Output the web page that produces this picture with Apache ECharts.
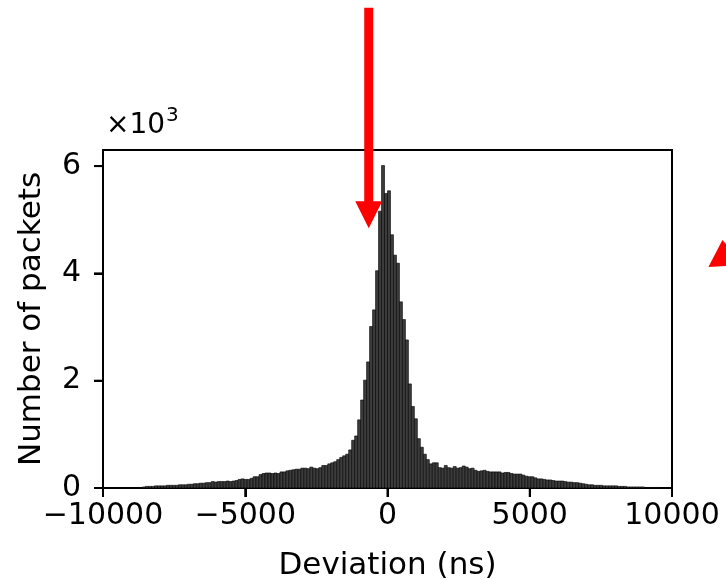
<!DOCTYPE html>
<html>
<head>
<meta charset="utf-8">
<script src="https://cdn.jsdelivr.net/npm/echarts@6/dist/echarts.min.js"></script>
<style>
  html, body { margin: 0; padding: 0; background: #fff; }
  #hist { width: 726px; height: 580px; }
</style>
</head>
<body>
<div id="hist"></div>
<script>
// histogram bins: left edge of first drawn bin and bin width (ns)
const binStart = -8715;
const binWidth = 105;
// packets per bin, in thousands
const countsK = [
  0.01,
  0.02, 0.03, 0.03, 0.03, 0.04, 0.04, 0.04,
  0.04, 0.05, 0.05, 0.05, 0.05, 0.06, 0.06, 0.06,
  0.07, 0.07, 0.08, 0.08, 0.09, 0.09, 0.10, 0.10,
  0.12, 0.11, 0.12, 0.12, 0.12, 0.13, 0.12, 0.13, 0.14,
  0.16, 0.17, 0.16, 0.16, 0.18, 0.21, 0.21,
  0.25, 0.27, 0.28, 0.28, 0.27, 0.28, 0.27,
  0.30, 0.30, 0.32, 0.33, 0.34, 0.35, 0.35,
  0.37, 0.37, 0.36, 0.39, 0.37, 0.36, 0.38, 0.42, 0.42, 0.45, 0.47, 0.49, 0.53,
  0.57, 0.60, 0.63, 0.71, 0.89, 0.97, 1.27, 1.64, 2.01, 2.35, 3.01, 3.32, 4.05, 5.16, 6.01, 5.49,
  5.54, 4.72, 4.34, 4.19, 3.47, 3.14, 2.76, 1.94, 1.52, 1.29, 0.92, 0.76, 0.63, 0.53, 0.45, 0.47,
  0.47, 0.38, 0.37, 0.42, 0.38, 0.37, 0.40, 0.37, 0.38, 0.41, 0.39, 0.36, 0.37,
  0.33, 0.31, 0.32, 0.33, 0.31, 0.30, 0.30, 0.30, 0.30, 0.28, 0.29, 0.29, 0.27, 0.26, 0.26, 0.26,
  0.24, 0.22, 0.21, 0.21, 0.19, 0.17, 0.17, 0.16, 0.15, 0.15, 0.14, 0.13, 0.13, 0.13, 0.12, 0.11,
  0.11, 0.10, 0.10, 0.09, 0.08, 0.07, 0.06, 0.06,
  0.05, 0.05, 0.05, 0.04, 0.04, 0.04, 0.04, 0.04,
  0.03, 0.03, 0.03, 0.02, 0.02, 0.02, 0.02, 0.02, 0.02, 0.01, 0.01, 0.01, 0.01, 0.01
];
const xTicks = [-10000, -5000, 0, 5000, 10000];
const yTicks = [0, 2, 4, 6];

const font = "'DejaVu Sans', sans-serif";
const minus = v => (v < 0 ? '\u2212' + Math.abs(v) : String(v));

const bins = countsK.map((c, i) => [binStart + i * binWidth, binStart + (i + 1) * binWidth, c]);

const chart = echarts.init(document.getElementById('hist'), null, { renderer: 'canvas' });

chart.setOption({
  animation: false,
  backgroundColor: '#fff',
  grid: {
    left: 103, right: 54, top: 150, bottom: 92,
    outerBoundsMode: 'none',
    containLabel: false,
    show: true, borderColor: '#000', borderWidth: 2, backgroundColor: 'transparent'
  },
  xAxis: {
    type: 'value',
    min: -10000, max: 10000, interval: 5000,
    name: 'Deviation (ns)',
    nameLocation: 'middle',
    nameGap: 62,
    nameTextStyle: { fontFamily: font, fontSize: 31, color: '#000' },
    axisLine: { show: true, onZero: false, lineStyle: { color: '#000', width: 2 } },
    axisTick: { show: true, inside: false, length: 9, lineStyle: { color: '#000', width: 2 } },
    axisLabel: { margin: 13, fontFamily: font, fontSize: 30, color: '#000', formatter: minus, customValues: xTicks },
    splitLine: { show: false }
  },
  yAxis: {
    type: 'value',
    min: 0, max: 6.3, interval: 2,
    name: 'Number of packets',
    nameLocation: 'middle',
    nameGap: 56,
    nameRotate: 90,
    nameTextStyle: { fontFamily: font, fontSize: 31, color: '#000' },
    axisLine: { show: true, onZero: false, lineStyle: { color: '#000', width: 2 } },
    axisTick: { show: true, inside: false, length: 9, lineStyle: { color: '#000', width: 2 }, customValues: yTicks },
    axisLabel: { margin: 22, fontFamily: font, fontSize: 30, color: '#000', customValues: yTicks },
    splitLine: { show: false }
  },
  series: [{
    type: 'custom',
    data: bins,
    encode: { x: [0, 1], y: 2 },
    clip: true,
    renderItem: function (params, api) {
      const top = api.coord([api.value(0), api.value(2)]);
      const base = api.coord([api.value(1), 0]);
      return {
        type: 'rect',
        shape: { x: top[0], y: top[1], width: base[0] - top[0], height: base[1] - top[1] },
        style: { fill: '#3c3c3c', stroke: '#000', lineWidth: 0.6 }
      };
    }
  }]
});

// annotations: red arrow pointing at the peak, and a cut-off arrowhead at the right edge
const arrowX = -660;
const arrowTop = 8.95;
const arrowTip = 4.84;
const p1 = chart.convertToPixel({ gridIndex: 0 }, [arrowX, arrowTop]);
const p2 = chart.convertToPixel({ gridIndex: 0 }, [arrowX, arrowTip]);
const headLen = 27, headHalf = 13.5, shaftHalf = 4.5;
const tip2 = chart.convertToPixel({ gridIndex: 0 }, [11280, 4.12]);

// tick marks drawn outside the plot box (matplotlib style), placed through the axes
const tickMarks = [];
xTicks.forEach(v => {
  const p = chart.convertToPixel({ gridIndex: 0 }, [v, 0]);
  tickMarks.push({ type: 'line', z: 90, shape: { x1: p[0], y1: p[1], x2: p[0], y2: p[1] + 9 }, style: { stroke: '#000', lineWidth: 2 } });
});
yTicks.forEach(v => {
  const p = chart.convertToPixel({ gridIndex: 0 }, [-10000, v]);
  tickMarks.push({ type: 'line', z: 90, shape: { x1: p[0] - 9, y1: p[1], x2: p[0], y2: p[1] }, style: { stroke: '#000', lineWidth: 2 } });
});

chart.setOption({
  graphic: tickMarks.concat([
    {
      type: 'rect', z: 100,
      shape: { x: p1[0] - shaftHalf, y: p1[1], width: shaftHalf * 2, height: p2[1] - headLen - p1[1] + 1 },
      style: { fill: '#ff0000' }
    },
    {
      type: 'polygon', z: 100,
      shape: { points: [[p2[0] - headHalf, p2[1] - headLen], [p2[0] + headHalf, p2[1] - headLen], [p2[0], p2[1]]] },
      style: { fill: '#ff0000' }
    },
    {
      type: 'polygon', z: 100,
      shape: { points: [[tip2[0], tip2[1]], [tip2[0] + 14, tip2[1] - 27], [tip2[0] + 36, tip2[1] - 2]] },
      style: { fill: '#ff0000' }
    },
    {
      type: 'text', left: 106, top: 106, z: 100,
      style: {
        text: '{a|\u00d710}{b|3}',
        fontFamily: font,
        rich: {
          a: { fontFamily: font, fontSize: 28, color: '#000', verticalAlign: 'bottom' },
          b: { fontFamily: font, fontSize: 20, color: '#000', verticalAlign: 'top', padding: [0, 0, 14, 1] }
        }
      }
    }
  ])
});
</script>
</body>
</html>
